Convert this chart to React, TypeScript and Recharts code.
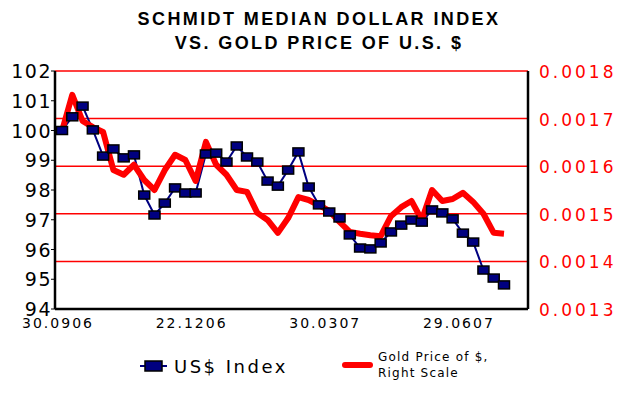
import React from "react";
import { LineChart, Line, XAxis, YAxis, CartesianGrid } from "recharts";

const dates = [
  "30.0906", "06.1006", "13.1006", "20.1006", "27.1006", "03.1106", "10.1106", "17.1106", "24.1106", "01.1206",
  "08.1206", "13.1206", "18.1206", "22.1206", "29.1206", "05.0107", "12.0107", "19.0107", "26.0107", "02.0207",
  "09.0207", "16.0207", "23.0207", "02.0307", "09.0307", "16.0307", "30.0307", "06.0407", "13.0407", "20.0407",
  "27.0407", "04.0507", "11.0507", "18.0507", "25.0507", "01.0607", "08.0607", "15.0607", "22.0607", "29.0607",
  "06.0707", "13.0707", "20.0707", "27.0707",
];

const usdIndex = [
  100.0, 100.46, 100.82, 100.02, 99.14, 99.38, 99.08, 99.18, 97.83, 97.16,
  97.56, 98.07, 97.9, 97.9, 99.21, 99.24, 98.94, 99.48, 99.11, 98.94,
  98.3, 98.13, 98.67, 99.28, 98.1, 97.5, 97.26, 97.06, 96.49, 96.05,
  96.02, 96.22, 96.59, 96.82, 96.99, 96.92, 97.33, 97.23, 97.03, 96.55,
  96.25, 95.31, 95.04, 94.81,
];

const goldPrice = [
  0.001674, 0.00175, 0.001695, 0.001682, 0.001672, 0.001592, 0.001582, 0.001603, 0.001571, 0.00155,
  0.001592, 0.001624, 0.001613, 0.001569, 0.001651, 0.001603, 0.001582, 0.00155, 0.001546, 0.001502,
  0.001487, 0.00146, 0.001491, 0.001535, 0.001529, 0.001518, 0.001506, 0.001483, 0.001462, 0.001458,
  0.001455, 0.001453, 0.001495, 0.001514, 0.001527, 0.001487, 0.00155, 0.001527, 0.001531, 0.001544,
  0.001525, 0.0015, 0.00146, 0.001458,
];

const leftTicks = [94, 95, 96, 97, 98, 99, 100, 101, 102];
const rightTicks = [0.0013, 0.0014, 0.0015, 0.0016, 0.0017, 0.0018];

const data = dates.map((d, i) => ({ date: d, usd: usdIndex[i], gold: goldPrice[i] }));

const tickFont = "'DejaVu Sans', Verdana, sans-serif";

function SquareDot(props: any) {
  const { cx, cy } = props;
  if (cx == null || cy == null) return null;
  return <rect x={cx - 5.5} y={cy - 4} width={11} height={8} fill="#000080" stroke="#000" strokeWidth={1.5} />;
}

function LeftTick({ x, y, payload }: any) {
  return (
    <text x={x + 3} y={y} dy={7} textAnchor="end" fontFamily={tickFont} fontSize={19} letterSpacing={1.5} fill="#000">
      {payload.value}
    </text>
  );
}

function RightTick({ x, y, payload }: any) {
  return (
    <text x={x + 3} y={y} dy={7} textAnchor="start" fontFamily={tickFont} fontSize={17} letterSpacing={3} fill="#ff0000">
      {Number(payload.value).toFixed(4)}
    </text>
  );
}

function BottomTick({ x, y, payload }: any) {
  return (
    <text x={x - 4} y={y} dy={11} textAnchor="middle" fontFamily={tickFont} fontSize={14} letterSpacing={2} fill="#000">
      {payload.value}
    </text>
  );
}

export default function App() {
  return (
    <div style={{ position: "absolute", left: 0, top: 0, width: 620, height: 399, background: "#fff" }}>
      <div
        style={{
          position: "absolute",
          left: 9,
          top: 7,
          width: 620,
          textAlign: "center",
          fontFamily: "'Liberation Sans', Arial, sans-serif",
          fontWeight: "bold",
          fontSize: 18,
          lineHeight: "24px",
          letterSpacing: 2.4,
          color: "#000",
        }}
      >
        <div>SCHMIDT MEDIAN DOLLAR INDEX</div>
        <div>VS. GOLD PRICE OF U.S. $</div>
      </div>

      <div style={{ position: "absolute", left: 0, top: 0 }}>
        <LineChart width={620} height={399} data={data} margin={{ top: 71, right: 0, bottom: 60, left: 0 }}>
          <CartesianGrid yAxisId="right" vertical={false} stroke="#ff0000" strokeWidth={1.5} />
          <XAxis
            dataKey="date"
            interval={12}
            padding={{ left: 7, right: 24 }}
            height={30}
            tickLine={false}
            axisLine={{ stroke: "#000", strokeWidth: 2.5 }}
            tick={<BottomTick />}
          />
          <YAxis
            yAxisId="left"
            orientation="left"
            width={55}
            domain={[94, 102]}
            ticks={leftTicks}
            interval={0}
            tickSize={4}
            tickLine={{ stroke: "#000" }}
            axisLine={{ stroke: "#000", strokeWidth: 2.5 }}
            tick={<LeftTick />}
          />
          <YAxis
            yAxisId="right"
            orientation="right"
            width={92}
            domain={[0.0013, 0.0018]}
            ticks={rightTicks}
            interval={0}
            tickLine={false}
            axisLine={{ stroke: "#000", strokeWidth: 2.5 }}
            tick={<RightTick />}
          />
          <Line
            yAxisId="left"
            dataKey="usd"
            stroke="#000080"
            strokeWidth={2}
            dot={<SquareDot />}
            activeDot={false}
            isAnimationActive={false}
          />
          <Line
            yAxisId="right"
            dataKey="gold"
            stroke="#ff0000"
            strokeWidth={6}
            strokeLinejoin="round"
            dot={false}
            activeDot={false}
            isAnimationActive={false}
          />
        </LineChart>
      </div>

      <svg style={{ position: "absolute", left: 0, top: 340 }} width={620} height={50}>
        <line x1={140} y1={26} x2={167} y2={26} stroke="#000080" strokeWidth={2} />
        <rect x={145} y={21} width={17} height={10} fill="#000080" stroke="#000" strokeWidth={1.5} />
        <text x={174} y={33} fontFamily={tickFont} fontSize={18} letterSpacing={2.5} fill="#000">
          US$ Index
        </text>
        <line x1={345} y1={25} x2={370} y2={25} stroke="#ff0000" strokeWidth={6} strokeLinecap="round" />
        <text x={378} y={21} fontFamily={tickFont} fontSize={12} letterSpacing={1.2} fill="#000">
          Gold Price of $,
        </text>
        <text x={378} y={37} fontFamily={tickFont} fontSize={12} letterSpacing={1.2} fill="#000">
          Right Scale
        </text>
      </svg>
    </div>
  );
}
